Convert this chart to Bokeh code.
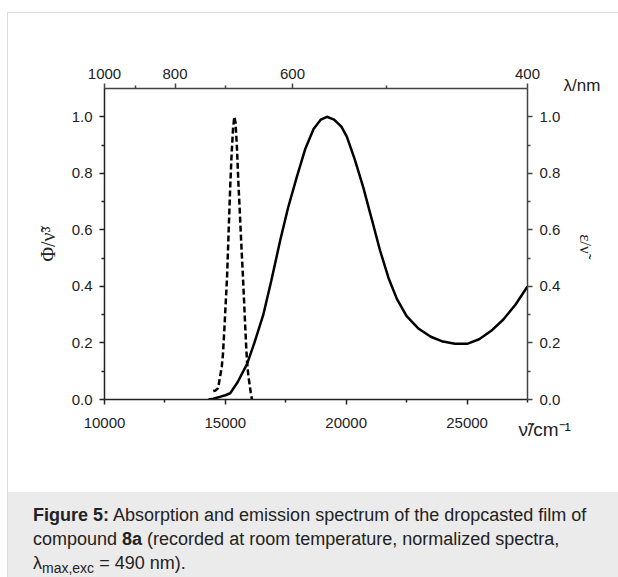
import math
from bokeh.plotting import figure
from bokeh.models import (Range1d, LinearAxis, FixedTicker, CustomJSTickFormatter,
                          PrintfTickFormatter, Title, Div)
from bokeh.layouts import column
from bokeh.embed import file_html
from bokeh.resources import INLINE

# ---- data (wavenumber in cm^-1, normalized intensities) ----
nu_abs = [14300, 14500, 14800, 15000, 15200, 15500, 15900, 16200, 16570, 16900,
          17270, 17600, 17960, 18300, 18650, 18950, 19200, 19500, 19800, 20025,
          20350, 20700, 21050, 21400, 21750, 22100, 22500, 23000, 23500, 24000,
          24500, 25000, 25500, 26000, 26500, 27000, 27500]
abs_vals = [0.0, 0.003, 0.01, 0.015, 0.022, 0.06, 0.126, 0.20, 0.30, 0.42,
            0.563, 0.68, 0.788, 0.885, 0.957, 0.99, 1.0, 0.99, 0.965, 0.93,
            0.85, 0.752, 0.64, 0.527, 0.43, 0.355, 0.295, 0.25, 0.222, 0.205,
            0.197, 0.197, 0.213, 0.243, 0.283, 0.335, 0.40]

nu_em = [14500, 14600, 14700, 14780, 14850, 14900, 14960, 15020, 15070, 15130,
         15200, 15260, 15320, 15370, 15420, 15480, 15540, 15600, 15660, 15730,
         15800, 15860, 15900, 15950, 16000, 16050, 16100]
em_vals = [0.030, 0.032, 0.040, 0.080, 0.115, 0.16, 0.25, 0.35, 0.433, 0.58,
           0.75, 0.87, 0.96, 1.0, 0.98, 0.89, 0.765, 0.66, 0.55, 0.43,
           0.30, 0.19, 0.13, 0.085, 0.055, 0.025, 0.0]

x_major = [10000, 15000, 20000, 25000]
x_minor = [12500, 17500, 22500, 27500]
y_major = [0.0, 0.2, 0.4, 0.6, 0.8, 1.0]
y_minor = [0.1, 0.3, 0.5, 0.7, 0.9]
lam_major = [1000, 800, 600, 400]
lam_minor = [900, 700, 500]

FONT = "Liberation Sans"

p = figure(width=610, height=479, x_range=Range1d(10000, 27500), y_range=Range1d(0, 1.1),
           output_backend="svg", toolbar_location=None,
           min_border_left=96, min_border_right=91, min_border_top=75, min_border_bottom=93)
p.xgrid.visible = False
p.ygrid.visible = False
p.outline_line_color = None
p.background_fill_color = "white"
p.border_fill_color = "white"

def style(ax, color, standoff):
    ax.axis_line_width = 1.5
    ax.axis_line_color = color
    ax.major_tick_in = 0
    ax.major_tick_out = 5
    ax.minor_tick_in = 0
    ax.minor_tick_out = 3
    ax.major_tick_line_color = color
    ax.minor_tick_line_color = color
    ax.major_tick_line_width = 1.5
    ax.minor_tick_line_width = 1.5
    ax.major_label_text_font = FONT
    ax.major_label_text_font_size = "15px"
    ax.major_label_text_color = "#222222"
    ax.major_label_standoff = standoff

xb = p.xaxis[0]
xb.ticker = FixedTicker(ticks=x_major, minor_ticks=x_minor)
style(xb, "#222222", 13)

yl = p.yaxis[0]
yl.ticker = FixedTicker(ticks=y_major, minor_ticks=y_minor)
yl.formatter = PrintfTickFormatter(format="%.1f")
style(yl, "#222222", 7)
yl.axis_label = "Φ/ν̃³"
yl.axis_label_text_font = "Liberation Serif"
yl.axis_label_text_font_size = "20px"
yl.axis_label_text_font_style = "normal"
yl.axis_label_text_color = "#222222"
yl.axis_label_standoff = 10

yr = LinearAxis(ticker=FixedTicker(ticks=y_major, minor_ticks=y_minor),
                formatter=PrintfTickFormatter(format="%.1f"))
style(yr, "#444444", 7)
yr.axis_label = "ε/ν̃"
yr.axis_label_text_font = "Liberation Serif"
yr.axis_label_text_font_size = "17px"
yr.axis_label_text_font_style = "normal"
yr.axis_label_text_color = "#222222"
yr.axis_label_standoff = 13
p.add_layout(yr, "right")

p.extra_x_ranges = {"top": Range1d(10000, 25000)}
xt = LinearAxis(x_range_name="top",
                ticker=FixedTicker(ticks=[1e7 / l for l in lam_major],
                                   minor_ticks=[1e7 / l for l in lam_minor]),
                formatter=CustomJSTickFormatter(code="return Math.round(1e7/tick).toString();"))
style(xt, "#444444", 5)
p.add_layout(xt, "above")

p.line(nu_abs, abs_vals, line_width=2.5, line_color="black")
p.line(nu_em, em_vals, line_width=2.5, line_color="black", line_dash="6 3")

# unit labels at the right ends of the top and bottom axes
t_top = Title(text="λ/nm", align="left", offset=459, standoff=-58, vertical_align="bottom",
              text_font=FONT, text_font_size="17px", text_font_style="normal",
              text_color="#222222")
p.add_layout(t_top, "above")
t_bot = Title(text="ν̃/cm⁻¹", align="left", offset=414, standoff=-24, vertical_align="top",
              text_font=FONT, text_font_size="19px", text_font_style="normal",
              text_color="#222222")
p.add_layout(t_bot, "below")

cap_html = (
    "<div style=\"font-family:'Liberation Sans',Arial,sans-serif;font-size:18px;"
    "line-height:24px;color:#222;padding:11px 0 0 25px;white-space:nowrap;\">"
    "<b>Figure 5:</b> Absorption and emission spectrum of the dropcasted film of<br>"
    "compound <b>8a</b> (recorded at room temperature, normalized spectra,<br>"
    "λ<span style=\"font-size:14px;position:relative;top:4px;\">max,exc</span> = 490 nm)."
    "</div>"
)
cap = Div(text=cap_html, width=610, height=85, margin=0,
          styles={"background-color": "#ebebeb"})

root = column(p, cap, margin=(12, 0, 0, 7), spacing=0,
              styles={"border-top": "1px solid #dddddd", "border-left": "1px solid #dddddd"})

open("out.html", "w").write(file_html(root, INLINE))
